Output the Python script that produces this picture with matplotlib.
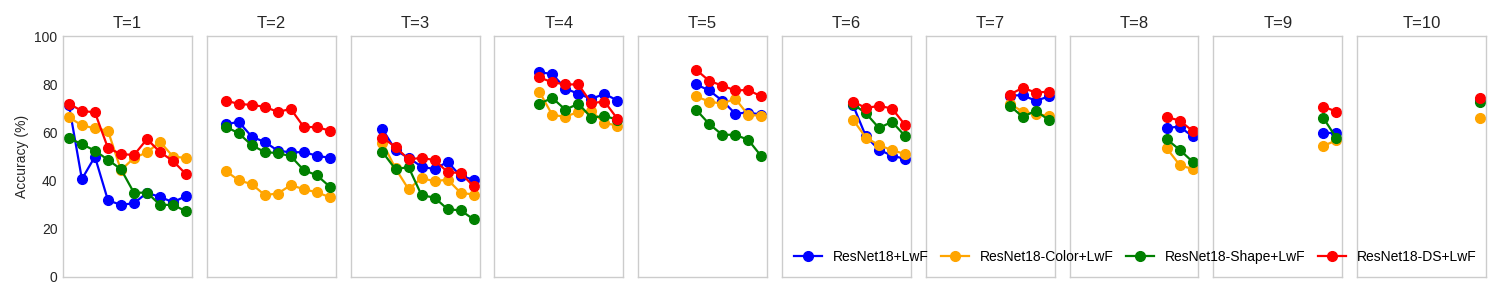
import matplotlib
matplotlib.use("Agg")
import matplotlib.pyplot as plt

plt.rcParams['font.family'] = ['Liberation Sans', 'DejaVu Sans']

tasks = ["T=1", "T=2", "T=3", "T=4", "T=5", "T=6", "T=7", "T=8", "T=9", "T=10"]
series_names = ["ResNet18+LwF", "ResNet18-Color+LwF", "ResNet18-Shape+LwF", "ResNet18-DS+LwF"]
series_colors = ["blue", "orange", "green", "red"]

lwf = [
    [71.5, 40.6, 49.9, 31.8, 29.9, 30.6, 34.9, 33.2, 31.0, 33.6],
    [63.3, 64.4, 58.2, 56.0, 52.4, 51.7, 51.8, 50.3, 49.4],
    [61.3, 52.6, 49.4, 45.8, 44.7, 47.8, 41.8, 40.4],
    [85.0, 84.2, 78.2, 76.0, 73.9, 76.0, 73.2],
    [79.9, 77.4, 73.2, 67.8, 68.2, 67.4],
    [71.4, 58.3, 52.8, 50.3, 49.0],
    [75.3, 75.4, 73.1, 74.9],
    [61.8, 62.4, 58.3],
    [59.9, 59.6],
    [73.6],
]
color_lwf = [
    [66.3, 62.9, 61.7, 60.7, 44.3, 49.4, 51.7, 56.1, 49.9, 49.4],
    [44.0, 40.1, 38.5, 34.0, 34.6, 38.1, 36.4, 35.1, 33.1],
    [55.7, 45.0, 36.4, 41.0, 39.7, 40.4, 34.9, 34.2],
    [76.9, 67.2, 66.5, 68.5, 68.8, 63.9, 62.8],
    [74.9, 72.8, 71.9, 74.0, 67.2, 66.9],
    [65.3, 57.8, 54.7, 52.6, 51.0],
    [71.8, 68.6, 67.6, 66.9],
    [53.5, 46.5, 44.7],
    [54.4, 56.7],
    [66.0],
]
shape_lwf = [
    [57.6, 55.1, 52.4, 48.6, 44.7, 34.9, 35.0, 29.9, 29.9, 27.2],
    [62.4, 59.6, 54.7, 51.8, 51.4, 50.1, 44.3, 42.2, 37.4],
    [51.8, 44.7, 45.6, 33.9, 32.9, 28.1, 27.6, 23.9],
    [71.9, 74.3, 69.4, 71.9, 66.1, 66.8, 65.3],
    [69.4, 63.5, 59.0, 59.0, 56.9, 50.1],
    [71.8, 67.9, 61.8, 64.4, 58.5],
    [71.1, 66.4, 69.0, 65.1],
    [57.2, 52.8, 47.8],
    [66.0, 57.6],
    [72.6],
]
ds_lwf = [
    [71.9, 68.9, 68.3, 53.5, 51.0, 50.6, 57.2, 51.8, 48.1, 42.6],
    [73.2, 71.8, 71.4, 70.6, 68.5, 69.7, 62.2, 62.2, 60.7],
    [57.8, 53.9, 48.8, 49.4, 48.5, 43.5, 43.1, 37.6],
    [82.8, 80.8, 79.9, 79.9, 72.1, 72.8, 65.6],
    [86.0, 81.4, 79.4, 77.4, 77.6, 74.9],
    [72.8, 70.1, 71.0, 69.9, 63.1],
    [75.7, 78.5, 76.5, 76.9],
    [66.4, 64.9, 60.6],
    [70.7, 68.6],
    [74.3],
]
all_series = [lwf, color_lwf, shape_lwf, ds_lwf]
y_ticks = [0, 20, 40, 60, 80, 100]

fig, axes = plt.subplots(1, 10, figsize=(15, 3), dpi=100, sharey=True, sharex=True)
fig.subplots_adjust(left=0.042, right=0.9907, top=0.88, bottom=0.077, wspace=0.115)

handles = []
for t, ax in enumerate(axes):
    for s, (vals, name, col) in enumerate(zip(all_series, series_names, series_colors)):
        xs = list(range(t, t + len(vals[t])))
        h, = ax.plot(xs, vals[t], marker='o', color=col, linewidth=1.6,
                     markersize=7, label=name)
        if t == 0:
            handles.append(h)
    ax.set_title(tasks[t], fontsize=12, color='#262626')
    ax.set_ylim(0, 100)
    ax.set_xlim(-0.45, 9.45)
    ax.set_xticks([])
    ax.set_yticks(y_ticks)
    for sp in ax.spines.values():
        sp.set_color('#cccccc')
        sp.set_linewidth(1.0)
    ax.tick_params(axis='y', length=0, labelsize=10, labelcolor='#262626', pad=4)
    if t > 0:
        ax.tick_params(axis='y', labelleft=False)
    ax.grid(False)

axes[0].set_ylabel("Accuracy (%)", fontsize=10, color='#262626')

fig.legend(handles=handles, labels=series_names, loc='lower right',
           bbox_to_anchor=(0.993, 0.078), ncol=4, frameon=False, fontsize=10,
           columnspacing=0.9, handletextpad=0.8)

fig.savefig("out.png", dpi=100)
